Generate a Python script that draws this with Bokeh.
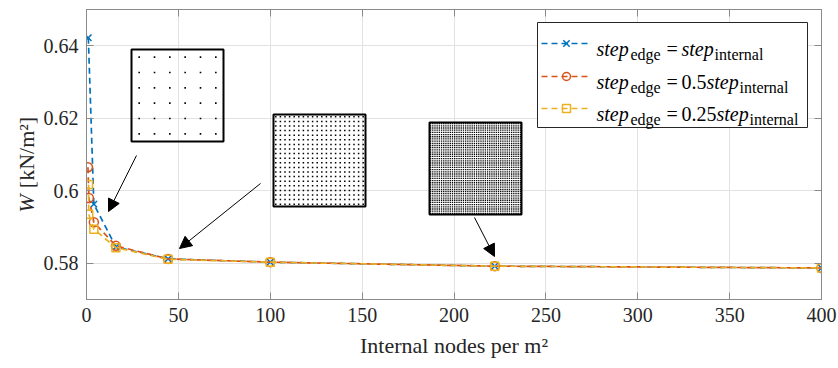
import numpy as np
from bokeh.plotting import figure
from bokeh.layouts import row
from bokeh.models import Range1d, LinearAxis, FixedTicker, Label, Arrow, NormalHead, Grid
from bokeh.core.properties import value
from bokeh.embed import file_html
from bokeh.resources import INLINE

# ---------------- data ----------------
x_ticks = [0, 50, 100, 150, 200, 250, 300, 350, 400]
y_ticks = [0.58, 0.60, 0.62, 0.64]
y_tick_labels = ["0.58", "0.6", "0.62", "0.64"]

x_blue = [1, 4, 16, 44.4, 100, 222.2, 400]
w_blue = [0.6422, 0.5963, 0.5845, 0.5812, 0.5803, 0.5792, 0.5787]

x_orange = [0.8, 1.3, 4, 16, 44.4, 100, 222.2, 400]
w_orange = [0.6065, 0.5980, 0.5913, 0.5848, 0.5812, 0.5803, 0.5792, 0.5787]

x_yellow = [1.1, 1.2, 4, 16, 44.4, 100, 222.2, 400]
w_yellow = [0.6017, 0.5935, 0.5894, 0.5843, 0.5811, 0.5803, 0.5792, 0.5787]

legend_coefs = ["", "0.5", "0.25"]
inset_grid_counts = [6, 20, 42]

# ---------------- style / layout ----------------
BLUE, ORANGE, YELLOW = "#0072BD", "#D95319", "#EDB120"
AX = "#8a8a8a"
TXT = "#262626"
FONT = "Liberation Serif"
LW = 40                       # width of the side panel holding the y label
FL, FT, FW, FH = 85, 9, 735, 290
XMIN, XMAX, YMIN, YMAX = 0, 400, 0.57, 0.65


def X(px):
    return XMIN + (px - FL) / FW * (XMAX - XMIN)


def Y(py):
    return YMAX - (py - FT) / FH * (YMAX - YMIN)


p = figure(frame_width=FW, frame_height=FH,
           x_range=Range1d(XMIN, XMAX), y_range=Range1d(YMIN, YMAX),
           x_axis_type=None, y_axis_type=None,
           output_backend="svg", toolbar_location=None,
           min_border_left=FL - LW, min_border_right=838 - FL - FW,
           min_border_top=FT, min_border_bottom=368 - FT - FH)
p.background_fill_color = "white"
p.border_fill_color = "white"
p.outline_line_color = AX
p.outline_line_width = 1


def make_axis(ticks, show_labels, overrides=None):
    a = LinearAxis(ticker=FixedTicker(ticks=ticks),
                   major_tick_in=7, major_tick_out=0, minor_tick_line_color=None,
                   axis_line_color=AX, major_tick_line_color=AX,
                   major_label_text_font=FONT,
                   major_label_text_color=TXT if show_labels else None,
                   major_label_text_font_size="20px" if show_labels else "0px",
                   major_label_standoff=8 if show_labels else 0)
    if overrides:
        a.major_label_overrides = overrides
    return a


xb = make_axis(x_ticks, True)
xb.axis_label = "Internal nodes per m²"
xb.axis_label_text_font = FONT
xb.axis_label_text_font_size = "22px"
xb.axis_label_text_font_style = "normal"
xb.axis_label_text_color = TXT
xb.axis_label_standoff = 8
p.add_layout(xb, "below")
p.add_layout(make_axis(y_ticks, True, {t: s for t, s in zip(y_ticks, y_tick_labels)}), "left")
p.add_layout(make_axis(x_ticks, False), "above")
p.add_layout(make_axis(y_ticks, False), "right")

p.add_layout(Grid(dimension=0, ticker=FixedTicker(ticks=x_ticks),
                  grid_line_color="#e2e2e2", grid_line_width=1))
p.add_layout(Grid(dimension=1, ticker=FixedTicker(ticks=y_ticks),
                  grid_line_color="#e2e2e2", grid_line_width=1))

# ---------------- data series ----------------
DASH = "6 4"
LWD = 1.7
p.line(x_blue, w_blue, line_color=BLUE, line_width=LWD, line_dash=DASH)
p.scatter(x_blue, w_blue, marker="x", size=9, line_color=BLUE, line_width=1.5)
p.line(x_orange, w_orange, line_color=ORANGE, line_width=LWD, line_dash=DASH)
p.scatter(x_orange, w_orange, marker="circle", size=9, fill_color=None,
          line_color=ORANGE, line_width=1.5)
p.line(x_yellow, w_yellow, line_color=YELLOW, line_width=LWD, line_dash=DASH)
p.scatter(x_yellow, w_yellow, marker="square", size=8, fill_color=None,
          line_color=YELLOW, line_width=1.5)

# ---------------- insets (node grids) ----------------
inset_boxes = [(130, 49, 222, 141), (272, 114, 364, 206), (428, 122, 520, 214)]
dot_sizes = [1.6, 1.5, 1.3]
for (px0, py0, px1, py1), n, ds in zip(inset_boxes, inset_grid_counts, dot_sizes):
    fr = (np.arange(n) + 0.5) / n
    gx, gy = np.meshgrid(px0 + fr * (px1 - px0), py0 + fr * (py1 - py0))
    p.scatter(X(gx.ravel()), Y(gy.ravel()), marker="square", size=ds,
              fill_color="black", line_color=None)
    p.quad(left=[X(px0)], right=[X(px1)], top=[Y(py0)], bottom=[Y(py1)],
           fill_color=None, line_color="black", line_width=2)

arrows = [((135, 155), (107, 211)), ((259, 183), (178, 248)), ((473, 217), (493, 256))]
for (sx, sy), (ex, ey) in arrows:
    p.add_layout(Arrow(x_start=X(sx), y_start=Y(sy), x_end=X(ex), y_end=Y(ey),
                       line_color="black", line_width=1,
                       end=NormalHead(size=12, fill_color="black", line_color="black")))

# ---------------- legend (hand-built for sub-scripts) ----------------
p.quad(left=[X(536)], right=[X(806)], top=[Y(22)], bottom=[Y(127)],
       fill_color="white", line_color="#262626", line_width=1)
row_y = [43, 76, 108]
colors = [BLUE, ORANGE, YELLOW]
markers = ["x", "circle", "square"]
coef_w = {"": 0, "0.5": 25, "0.25": 35}
for ry, c, m, coef in zip(row_y, colors, markers, legend_coefs):
    p.line([X(540), X(590)], [Y(ry), Y(ry)], line_color=c, line_width=1.5, line_dash=DASH)
    p.scatter([X(565)], [Y(ry)], marker=m, size=8 if m != "x" else 9, fill_color=None,
              line_color=c, line_width=1.5)
    base = ry + 5
    sub = ry + 11
    x2 = 680 + coef_w[coef]
    pieces = [
        (595, base, "step", "20px", "italic"),
        (629, sub, "edge", "16px", "normal"),
        (665, base, "=", "20px", "normal"),
        (680, base, coef, "20px", "normal"),
        (x2, base, "step", "20px", "italic"),
        (x2 + 33, sub, "internal", "16px", "normal"),
    ]
    for px, py, t, fs, st in pieces:
        if not t:
            continue
        p.add_layout(Label(x=X(px), y=Y(py), text=t, text_font=FONT, text_font_size=fs,
                           text_font_style=st, text_color="black",
                           text_baseline="alphabetic", text_align="left"))

# ---------------- side panel with the y-axis label (italic W) ----------------
SH = 368
pl = figure(frame_width=LW, frame_height=SH, x_range=Range1d(0, LW), y_range=Range1d(0, SH),
            x_axis_type=None, y_axis_type=None, output_backend="svg",
            toolbar_location=None, min_border=0)
pl.outline_line_color = None
pl.background_fill_color = "white"
pl.border_fill_color = "white"
pl.xgrid.visible = False
pl.ygrid.visible = False
pl.text(x=[26], y=[SH - 194], text=["W"], angle=np.pi / 2,
        text_font=value(FONT), text_font_size="22px", text_font_style="italic",
        text_color=TXT, text_baseline="middle", text_align="center")
pl.text(x=[26], y=[SH - 143], text=["[kN/m²]"], angle=np.pi / 2,
        text_font=value(FONT), text_font_size="22px", text_font_style="normal",
        text_color=TXT, text_baseline="middle", text_align="center")

layout = row(pl, p, spacing=0)
open("out.html", "w").write(file_html(layout, INLINE))
